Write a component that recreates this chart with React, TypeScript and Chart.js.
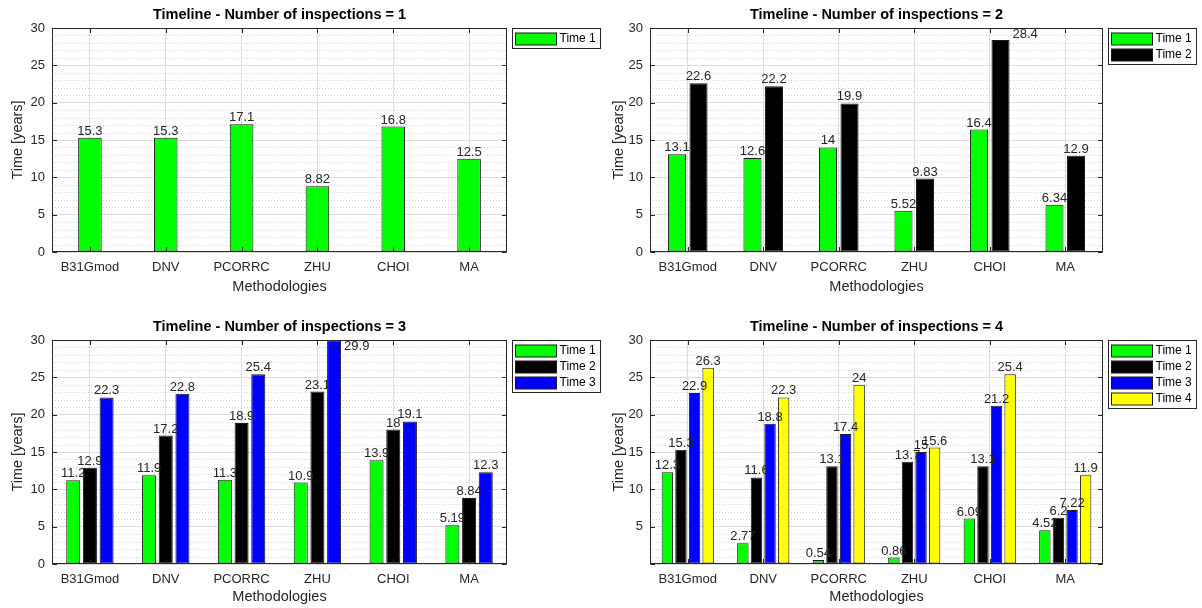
import React, { useEffect, useRef } from "react";
import { Chart, registerables } from "chart.js";

Chart.register(...registerables);

const FONT = '"Liberation Sans", Arial, Helvetica, sans-serif';

// ---------- data ----------
const methodologies = ["B31Gmod", "DNV", "PCORRC", "ZHU", "CHOI", "MA"];
const seriesNames = ["Time 1", "Time 2", "Time 3", "Time 4"];
const seriesColors = ["#00ff00", "#000000", "#0000ff", "#ffff00"];

const insp1Time1 = [15.3, 15.3, 17.1, 8.82, 16.8, 12.5];

const insp2Time1 = [13.1, 12.6, 14, 5.52, 16.4, 6.34];
const insp2Time2 = [22.6, 22.2, 19.9, 9.83, 28.4, 12.9];

const insp3Time1 = [11.2, 11.9, 11.3, 10.9, 13.9, 5.19];
const insp3Time2 = [12.9, 17.2, 18.9, 23.1, 18, 8.84];
const insp3Time3 = [22.3, 22.8, 25.4, 29.9, 19.1, 12.3];

const insp4Time1 = [12.3, 2.77, 0.54, 0.86, 6.09, 4.52];
const insp4Time2 = [15.3, 11.6, 13.1, 13.7, 13.1, 6.2];
const insp4Time3 = [22.9, 18.8, 17.4, 15, 21.2, 7.22];
const insp4Time4 = [26.3, 22.3, 24, 15.6, 25.4, 11.9];

const yMin = 0;
const yMax = 30;
const yMajorStep = 5;
const yMinorStep = 1;
const xTitle = "Methodologies";
const yTitle = "Time [years]";

type Panel = {
  title: string;
  series: number[][];
  left: number;
  top: number;
  plotLeft: number;
  plotRight: number;
  plotTop: number;
  plotBottom: number;
  groupPct: number;
  hideZeroTick: boolean;
  xTitlePad: number;
};

const W = 601;
const H = 304;

const panels: Panel[] = [
  {
    title: "Timeline - Number of inspections = 1",
    series: [insp1Time1],
    left: 0, top: 0,
    plotLeft: 52, plotRight: 507, plotTop: 28, plotBottom: 252,
    groupPct: 0.37, hideZeroTick: false, xTitlePad: 8,
  },
  {
    title: "Timeline - Number of inspections = 2",
    series: [insp2Time1, insp2Time2],
    left: 601, top: 0,
    plotLeft: 49, plotRight: 502, plotTop: 28, plotBottom: 252,
    groupPct: 0.57, hideZeroTick: false, xTitlePad: 8,
  },
  {
    title: "Timeline - Number of inspections = 3",
    series: [insp3Time1, insp3Time2, insp3Time3],
    left: 0, top: 304,
    plotLeft: 52, plotRight: 507, plotTop: 36, plotBottom: 260,
    groupPct: 0.66, hideZeroTick: false, xTitlePad: 2,
  },
  {
    title: "Timeline - Number of inspections = 4",
    series: [insp4Time1, insp4Time2, insp4Time3, insp4Time4],
    left: 601, top: 304,
    plotLeft: 49, plotRight: 502, plotTop: 36, plotBottom: 260,
    groupPct: 0.72, hideZeroTick: true, xTitlePad: 2,
  },
];

const AXIS_COLOR = "#262626";
const MAJOR_GRID = "#dedede";
const MINOR_GRID = "#cfcfcf";
const LABEL_SIDE_THRESHOLD = 28;
const LABEL_SIDE_VALUE = 29.1;

const matlabPlugin = {
  id: "matlabLook",
  beforeDatasetsDraw(chart: any) {
    const { ctx, chartArea: a, scales } = chart;
    const y = scales.y;
    ctx.save();
    ctx.strokeStyle = MINOR_GRID;
    ctx.lineWidth = 1;
    ctx.setLineDash([1, 2]);
    for (let v = yMin; v <= yMax; v += yMinorStep) {
      if (v % yMajorStep === 0) continue;
      const py = Math.round(y.getPixelForValue(v)) + 0.5;
      ctx.beginPath();
      ctx.moveTo(a.left, py);
      ctx.lineTo(a.right, py);
      ctx.stroke();
    }
    ctx.restore();
  },
  afterDatasetsDraw(chart: any) {
    const { ctx, scales } = chart;
    const y = scales.y;
    ctx.save();
    ctx.font = `13px ${FONT}`;
    ctx.fillStyle = "#262626";
    chart.data.datasets.forEach((ds: any, di: number) => {
      const meta = chart.getDatasetMeta(di);
      meta.data.forEach((bar: any, i: number) => {
        const v = ds.data[i];
        const txt = String(v);
        if (v > LABEL_SIDE_THRESHOLD) {
          ctx.textAlign = "left";
          ctx.textBaseline = "middle";
          ctx.fillText(txt, bar.x + bar.width / 2 + 3, y.getPixelForValue(LABEL_SIDE_VALUE));
        } else {
          ctx.textAlign = "center";
          ctx.textBaseline = "alphabetic";
          ctx.fillText(txt, bar.x, bar.y - 3);
        }
      });
    });
    ctx.restore();
  },
  afterDraw(chart: any) {
    const { ctx, chartArea: a, scales } = chart;
    const y = scales.y;
    const x = scales.x;
    const L = Math.round(a.left) + 0.5;
    const R = Math.round(a.right) - 0.5;
    const T = Math.round(a.top) + 0.5;
    const B = Math.round(a.bottom) - 0.5;
    ctx.save();
    ctx.strokeStyle = AXIS_COLOR;
    ctx.lineWidth = 1;
    ctx.setLineDash([]);
    // tick marks
    ctx.beginPath();
    for (let v = yMin; v <= yMax; v += yMajorStep) {
      const py = Math.round(y.getPixelForValue(v)) + 0.5;
      ctx.moveTo(L, py);
      ctx.lineTo(L + 4.5, py);
      ctx.moveTo(R, py);
      ctx.lineTo(R - 4.5, py);
    }
    for (let i = 0; i < methodologies.length; i++) {
      const px = Math.round(x.getPixelForValue(i)) + 0.5;
      ctx.moveTo(px, B);
      ctx.lineTo(px, B - 4.5);
      ctx.moveTo(px, T);
      ctx.lineTo(px, T + 4.5);
    }
    ctx.stroke();
    // box
    ctx.strokeRect(L, T, R - L, B - T);

    // title
    ctx.fillStyle = "#000";
    ctx.font = `bold 14.5px ${FONT}`;
    ctx.textAlign = "center";
    ctx.textBaseline = "middle";
    ctx.fillText(chart.options.plugins.matlabLook.title, (a.left + a.right) / 2, a.top - 13);

    // legend
    const ds = chart.data.datasets;
    const lx = Math.round(a.right + 5) + 0.5;
    const ly = Math.round(a.top) + 0.5;
    const lw = 88;
    const lh = Math.round(3.5 + 16 * ds.length);
    ctx.fillStyle = "#fff";
    ctx.fillRect(lx, ly, lw, lh);
    ctx.strokeStyle = AXIS_COLOR;
    ctx.strokeRect(lx, ly, lw, lh);
    ctx.font = `12px ${FONT}`;
    ctx.textAlign = "left";
    ctx.textBaseline = "middle";
    ds.forEach((d: any, i: number) => {
      const cy = ly + 10 + 16 * i;
      const px = lx + 3;
      ctx.fillStyle = d.backgroundColor;
      ctx.fillRect(px, Math.round(cy - 6), 41, 12);
      ctx.strokeStyle = "#1a1a1a";
      ctx.strokeRect(px, Math.round(cy - 6), 41, 12);
      ctx.fillStyle = "#000";
      ctx.fillText(d.label, px + 44, cy);
    });
    ctx.restore();
  },
};

function PanelChart({ p }: { p: Panel }) {
  const ref = useRef<HTMLCanvasElement | null>(null);
  useEffect(() => {
    if (!ref.current) return;
    const xAxisHeight = H - p.plotBottom;
    const chart = new Chart(ref.current, {
      type: "bar",
      data: {
        labels: methodologies,
        datasets: p.series.map((data, i) => ({
          label: seriesNames[i],
          data,
          backgroundColor: seriesColors[i],
          borderColor: "#1a1a1a",
          borderWidth: 1,
          borderSkipped: false,
          categoryPercentage: p.groupPct,
          barPercentage: 0.84,
        })),
      },
      options: {
        responsive: false,
        animation: false,
        devicePixelRatio: 1,
        layout: {
          padding: { left: 0, right: W - p.plotRight, top: p.plotTop, bottom: 0 },
        },
        plugins: {
          legend: { display: false },
          title: { display: false },
          tooltip: { enabled: false },
          matlabLook: { title: p.title },
        } as any,
        scales: {
          x: {
            type: "category",
            offset: true,
            grid: { color: MAJOR_GRID, offset: false, drawTicks: false },
            border: { display: false },
            ticks: {
              color: AXIS_COLOR,
              font: { family: FONT, size: 13 },
              padding: 8,
              maxRotation: 0,
              autoSkip: false,
            },
            title: {
              display: true,
              text: xTitle,
              color: AXIS_COLOR,
              font: { family: FONT, size: 14.5 },
              padding: { top: 0, bottom: p.xTitlePad },
            },
            afterFit: (s: any) => {
              s.height = xAxisHeight;
            },
          },
          y: {
            min: yMin,
            max: yMax,
            grid: { color: MAJOR_GRID, drawTicks: false },
            border: { display: false },
            ticks: {
              stepSize: yMajorStep,
              color: AXIS_COLOR,
              font: { family: FONT, size: 13 },
              padding: 7,
              callback: (v: any) => (p.hideZeroTick && Number(v) === 0 ? "" : String(v)),
            },
            title: {
              display: true,
              text: yTitle,
              color: AXIS_COLOR,
              font: { family: FONT, size: 14.5 },
              padding: { top: 9, bottom: 0 },
            },
            afterFit: (s: any) => {
              s.width = p.plotLeft;
            },
          },
        },
      } as any,
      plugins: [matlabPlugin],
    });
    return () => chart.destroy();
  }, [p]);
  return (
    <canvas
      ref={ref}
      width={W}
      height={H}
      style={{ position: "absolute", left: p.left, top: p.top, width: W, height: H }}
    />
  );
}

export default function App() {
  return (
    <div
      style={{
        position: "absolute",
        left: 0,
        top: 0,
        width: 1202,
        height: 608,
        background: "#fff",
        overflow: "hidden",
      }}
    >
      {panels.map((p, i) => (
        <PanelChart key={i} p={p} />
      ))}
    </div>
  );
}
